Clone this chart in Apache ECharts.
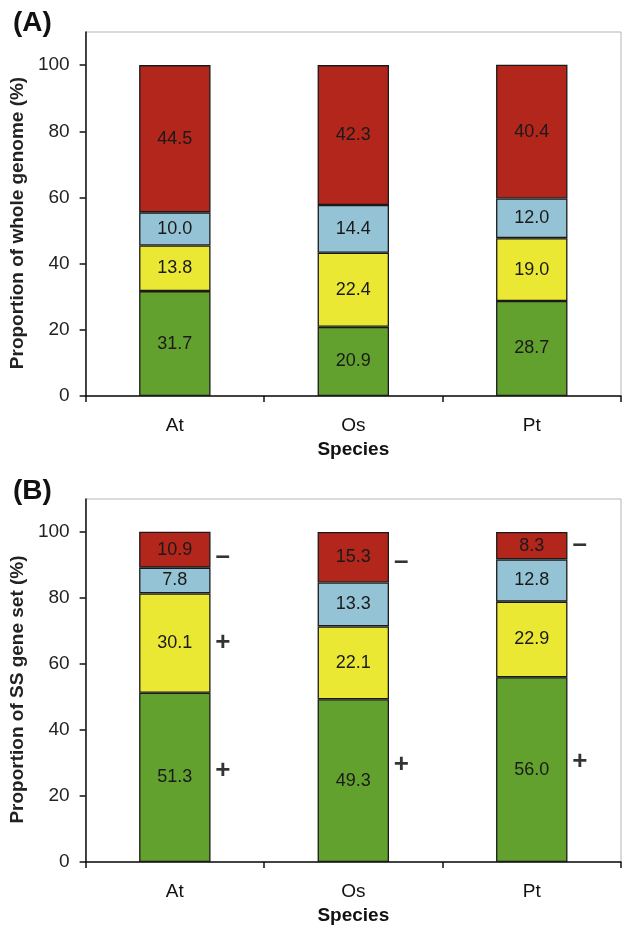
<!DOCTYPE html>
<html>
<head>
<meta charset="utf-8">
<script src="https://cdn.jsdelivr.net/npm/echarts@6/dist/echarts.min.js"></script>
<style>
  html, body { margin: 0; padding: 0; background: #fff; }
  #chart { width: 622px; height: 926px; }
</style>
</head>
<body>
<div id="chart"></div>
<script>
// categories
var species = ['At', 'Os', 'Pt']
var yTicks = [0, 20, 40, 60, 80, 100]

// (A) whole genome, bottom to top
var genomeGreen = [31.7, 20.9, 28.7]
var genomeYellow = [13.8, 22.4, 19.0]
var genomeBlue = [10.0, 14.4, 12.0]
var genomeRed = [44.5, 42.3, 40.4]

// (B) SS gene set
var ssGreen = [51.3, 49.3, 56.0]
var ssYellow = [30.1, 22.1, 22.9]
var ssBlue = [7.8, 13.3, 12.8]
var ssRed = [10.9, 15.3, 8.3]

// +/- marks beside the bars in (B)
var signSpecies = ['At', 'At', 'At', 'Os', 'Os', 'Pt', 'Pt']
var signText = ['\u2013', '+', '+', '\u2013', '+', '\u2013', '+']
var signY = [92.4, 66.5, 27.5, 91.0, 29.3, 96.0, 30.5]

var FONT = 'Liberation Sans, Arial, sans-serif'
var colors = { green: '#63a12f', yellow: '#ebe834', blue: '#93c3d5', red: '#b3261c' }

var chart = echarts.init(document.getElementById('chart'))

function xAxisFor(idx) {
  return {
    type: 'category',
    gridIndex: idx,
    data: species,
    name: 'Species',
    nameLocation: 'middle',
    nameGap: 44,
    nameTextStyle: { fontFamily: FONT, fontSize: 19, fontWeight: 'bold', color: '#111' },
    axisLine: { lineStyle: { color: '#111', width: 1.5 } },
    axisTick: { show: true, length: 6, lineStyle: { color: '#111', width: 1.5 } },
    axisLabel: { fontFamily: FONT, fontSize: 19, color: '#111', margin: 20 }
  }
}

function yAxisFor(idx, title) {
  return {
    type: 'value',
    gridIndex: idx,
    min: 0,
    max: 110,
    interval: 20,
    name: title,
    nameLocation: 'middle',
    nameGap: 50,
    nameTextStyle: { fontFamily: FONT, fontSize: 19, fontWeight: 'bold', color: '#222', padding: [0, 18, 0, 0] },
    axisLine: { show: true, lineStyle: { color: '#111', width: 1.5 } },
    axisTick: { show: true, length: 6, customValues: yTicks, lineStyle: { color: '#111', width: 1.5 } },
    axisLabel: { fontFamily: FONT, fontSize: 19, color: '#222', margin: 16, customValues: yTicks },
    splitLine: { show: false }
  }
}

function barSeries(idx, stack, values, color) {
  return {
    type: 'bar',
    xAxisIndex: idx,
    yAxisIndex: idx,
    stack: stack,
    barWidth: '40%',
    data: values,
    itemStyle: { color: color, borderColor: '#1a1a1a', borderWidth: 1.3 },
    label: {
      show: true,
      position: 'inside',
      fontFamily: FONT,
      fontSize: 18,
      color: '#1a1a1a',
      formatter: function (p) { return p.value.toFixed(1) }
    }
  }
}

var signData = signSpecies.map(function (s, i) {
  return { value: [s, signY[i]], name: signText[i] }
})

chart.setOption({
  animation: false,
  title: [
    { text: '(A)', left: 8, top: 4, textStyle: { fontFamily: FONT, fontSize: 28, fontWeight: 'bold', color: '#111' } },
    { text: '(B)', left: 8, top: 472, textStyle: { fontFamily: FONT, fontSize: 28, fontWeight: 'bold', color: '#111' } }
  ],
  grid: [
    { left: 83, top: 32, width: 538, height: 364, show: true, borderColor: '#b5b5b5', borderWidth: 1 },
    { left: 83, top: 499, width: 538, height: 364, show: true, borderColor: '#b5b5b5', borderWidth: 1 }
  ],
  xAxis: [xAxisFor(0), xAxisFor(1)],
  yAxis: [
    yAxisFor(0, 'Proportion of whole genome (%)'),
    yAxisFor(1, 'Proportion of SS gene set (%)')
  ],
  series: [
    barSeries(0, 'genome', genomeGreen, colors.green),
    barSeries(0, 'genome', genomeYellow, colors.yellow),
    barSeries(0, 'genome', genomeBlue, colors.blue),
    barSeries(0, 'genome', genomeRed, colors.red),
    barSeries(1, 'ss', ssGreen, colors.green),
    barSeries(1, 'ss', ssYellow, colors.yellow),
    barSeries(1, 'ss', ssBlue, colors.blue),
    barSeries(1, 'ss', ssRed, colors.red),
    {
      type: 'scatter',
      xAxisIndex: 1,
      yAxisIndex: 1,
      symbolSize: 0,
      data: signData,
      label: {
        show: true,
        position: 'inside',
        offset: [48, 0],
        fontFamily: FONT,
        fontSize: 26,
        fontWeight: 'bold',
        color: '#000',
        formatter: function (p) { return p.name }
      }
    }
  ]
})
</script>
</body>
</html>
